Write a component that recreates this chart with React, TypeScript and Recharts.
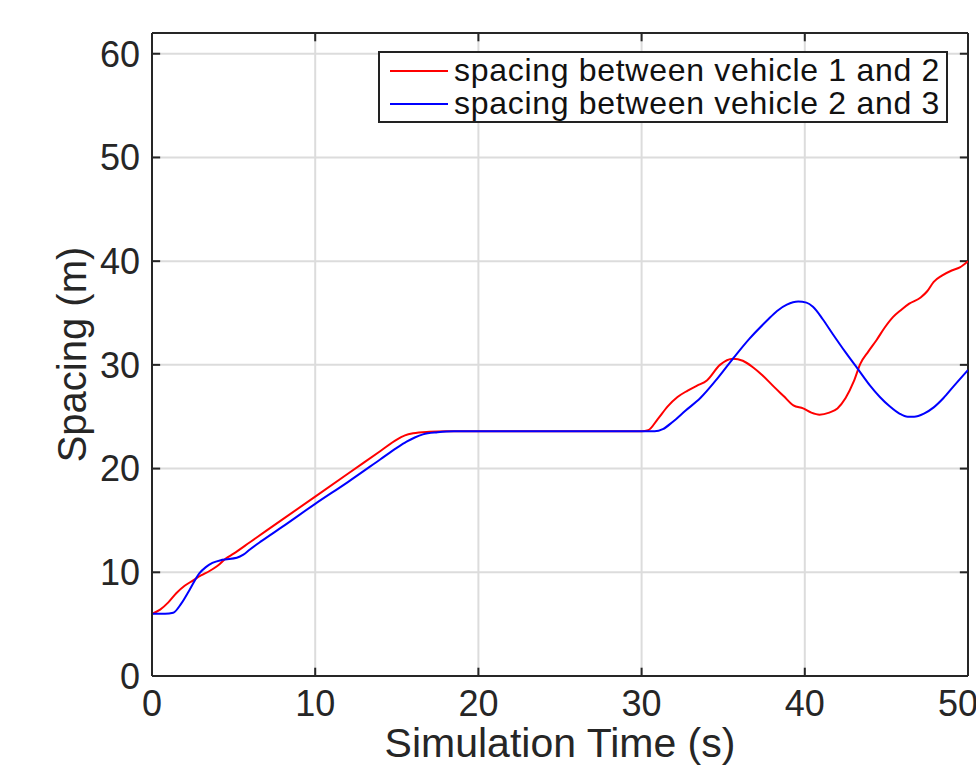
import { CartesianGrid, Line, LineChart, ReferenceLine, XAxis, YAxis } from 'recharts';

// spacing between vehicle 1 and 2 (red)
const timeV12 = [
  0, 0.5, 1, 1.5, 2, 2.5, 3, 3.5, 4, 4.5, 5, 6, 8, 10, 12, 14, 15, 15.5, 16, 17, 18,
  30, 30.4, 31, 31.6, 32.2, 32.8, 33.4, 34, 34.8, 35.6, 36.2, 36.8, 37.4, 38.1, 38.7,
  39.3, 39.9, 40.4, 40.9, 41.5, 42, 42.5, 43, 43.4, 43.9, 44.4, 44.9, 45.4, 45.9, 46.4,
  47.1, 47.5, 47.9, 48.4, 49, 49.5, 50,
];
const spacingV12 = [
  6.0, 6.4, 7.1, 8.0, 8.7, 9.2, 9.7, 10.1, 10.6, 11.3, 11.8, 12.9, 15.1, 17.3, 19.5, 21.7, 22.8, 23.2, 23.4, 23.55, 23.6,
  23.6, 23.7, 24.8, 26.0, 26.9, 27.5, 28.0, 28.5, 30.0, 30.6, 30.4, 29.8, 29.0, 27.9, 27.0,
  26.1, 25.8, 25.4, 25.2, 25.4, 25.8, 26.8, 28.4, 30.1, 31.3, 32.4, 33.6, 34.6, 35.3, 35.9,
  36.5, 37.1, 38.0, 38.6, 39.1, 39.4, 40.0,
];

// spacing between vehicle 2 and 3 (blue)
const timeV23 = [
  0, 0.8, 1.3, 1.8, 2.3, 2.9, 3.3, 3.7, 4.3, 5.2, 5.6, 6, 6.7, 8, 10, 12, 14, 15, 15.6, 16.1, 16.6, 17.5, 18.5,
  30.8, 31.3, 31.9, 32.7, 33.6, 34.6, 35.6, 36.6, 37.7, 38.3, 38.9, 39.6, 40.1, 40.5, 41.1, 41.7,
  42.5, 43.3, 44, 44.6, 45.2, 45.8, 46.3, 46.7, 47.3, 47.9, 48.5, 49.1, 50,
];
const spacingV23 = [
  6.0, 6.0, 6.1, 7.0, 8.3, 9.9, 10.5, 10.9, 11.2, 11.4, 11.7, 12.2, 13.0, 14.4, 16.6, 18.7, 20.9, 22.0, 22.6, 23.0, 23.3, 23.5, 23.6,
  23.6, 23.8, 24.5, 25.6, 26.8, 28.6, 30.6, 32.5, 34.3, 35.2, 35.8, 36.1, 36.0, 35.6, 34.4, 33.0,
  31.2, 29.5, 28.0, 26.9, 26.0, 25.3, 25.0, 25.0, 25.3, 25.9, 26.8, 27.9, 29.5,
];

const xTicks = [0, 10, 20, 30, 40, 50];
const yTicks = [0, 10, 20, 30, 40, 50, 60];

const legendItems = [
  { label: 'spacing between vehicle 1 and 2', color: '#ff0000' },
  { label: 'spacing between vehicle 2 and 3', color: '#0000ff' },
];

const FONT = '"Liberation Sans", Arial, Helvetica, sans-serif';
const INK = '#262626';
const X_MAX = 50;
const Y_MAX = 62;
// inward tick length, in data units (~8px)
const TICK_X = 0.5;
const TICK_Y = 0.8;

const dataV12 = timeV12.map((t, i) => ({ t, s: spacingV12[i] }));
const dataV23 = timeV23.map((t, i) => ({ t, s: spacingV23[i] }));

export default function App() {
  const tickStyle = { stroke: INK, strokeWidth: 2, ifOverflow: 'visible' as const };
  return (
    <div style={{ position: 'absolute', left: 0, top: 0, width: 976, height: 767, background: '#fff', fontFamily: FONT }}>
      <LineChart width={976} height={767} margin={{ top: 33, right: 8, bottom: 31, left: 92 }}>
        <CartesianGrid stroke="#dcdcdc" strokeWidth={2} />
        <XAxis
          dataKey="t"
          type="number"
          domain={[0, X_MAX]}
          ticks={xTicks}
          allowDataOverflow
          height={60}
          tickLine={false}
          axisLine={{ stroke: INK, strokeWidth: 2 }}
          tick={{ fill: INK, fontSize: 36, fontFamily: FONT }}
          tickMargin={8}
          label={{ value: 'Simulation Time (s)', position: 'insideBottom', offset: -21, fill: INK, fontSize: 41, fontFamily: FONT }}
        />
        <YAxis
          type="number"
          domain={[0, Y_MAX]}
          ticks={yTicks}
          allowDataOverflow
          width={60}
          tickLine={false}
          axisLine={{ stroke: INK, strokeWidth: 2 }}
          tick={{ fill: INK, fontSize: 36, fontFamily: FONT }}
          tickMargin={6}
          label={{ value: 'Spacing (m)', angle: -90, position: 'insideLeft', offset: -20, fill: INK, fontSize: 40, fontFamily: FONT, style: { textAnchor: 'middle' } }}
        />

        {/* box: top and right edges */}
        <ReferenceLine y={Y_MAX} stroke={INK} strokeWidth={2} ifOverflow="visible" />
        <ReferenceLine x={X_MAX} stroke={INK} strokeWidth={2} ifOverflow="visible" />

        {/* inward tick marks on all four sides */}
        {xTicks.map((t) => (
          <ReferenceLine key={`b${t}`} segment={[{ x: t, y: 0 }, { x: t, y: TICK_Y }]} {...tickStyle} />
        ))}
        {xTicks.map((t) => (
          <ReferenceLine key={`t${t}`} segment={[{ x: t, y: Y_MAX }, { x: t, y: Y_MAX - TICK_Y }]} {...tickStyle} />
        ))}
        {yTicks.map((t) => (
          <ReferenceLine key={`l${t}`} segment={[{ x: 0, y: t }, { x: TICK_X, y: t }]} {...tickStyle} />
        ))}
        {yTicks.map((t) => (
          <ReferenceLine key={`r${t}`} segment={[{ x: X_MAX, y: t }, { x: X_MAX - TICK_X, y: t }]} {...tickStyle} />
        ))}

        <Line data={dataV12} dataKey="s" type="monotone" stroke="#ff0000" strokeWidth={2} dot={false} isAnimationActive={false} />
        <Line data={dataV23} dataKey="s" type="monotone" stroke="#0000ff" strokeWidth={2} dot={false} isAnimationActive={false} />
      </LineChart>
      <div
        style={{
          position: 'absolute',
          left: 378,
          top: 51,
          width: 570,
          height: 72,
          border: '2px solid #222',
          background: '#fff',
          boxSizing: 'border-box',
          padding: '1px 0 0 10px',
        }}
      >
        {legendItems.map((it) => (
          <div
            key={it.label}
            style={{ display: 'flex', alignItems: 'center', height: 33, color: '#111', fontSize: 32, letterSpacing: 0.7, whiteSpace: 'nowrap' }}
          >
            <span style={{ display: 'inline-block', width: 58, height: 2, background: it.color, marginRight: 6 }} />
            {it.label}
          </div>
        ))}
      </div>
    </div>
  );
}
